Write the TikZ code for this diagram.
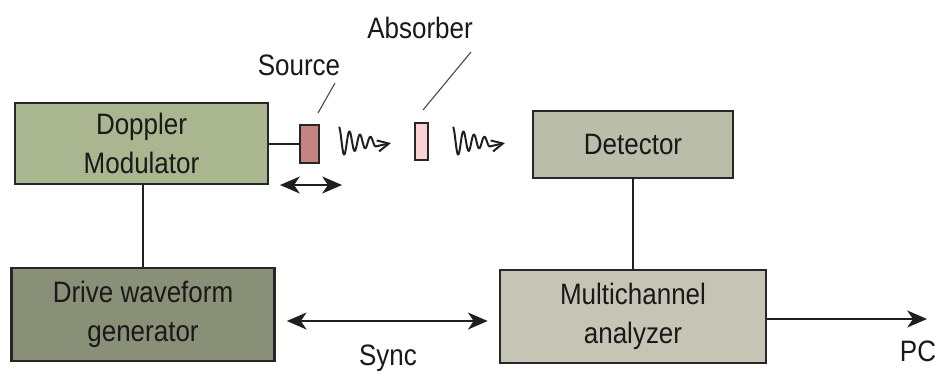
\documentclass[tikz,border=0pt]{standalone}
\usepackage{fontspec}
\setmainfont{Liberation Sans}[FakeStretch=0.88]
\usepackage{xcolor}
\usetikzlibrary{arrows.meta,positioning}

\definecolor{dmfill}{HTML}{A9B68F}
\definecolor{dwgfill}{HTML}{8A8F78}
\definecolor{detfill}{HTML}{B9BDAA}
\definecolor{mcafill}{HTML}{C6C5B5}
\definecolor{srcfill}{HTML}{C48484}
\definecolor{absfill}{HTML}{F9D3D3}

\begin{document}
\begin{tikzpicture}[x=0.025cm, y=-0.025cm,
  >={Stealth[length=14pt, width=12pt, inset=4pt]},
  box/.style={
    draw=black!85, line width=1.8pt, fill=#1,
    align=center, inner sep=0pt, text=black!90,
    font=\fontsize{21}{28}\selectfont
  },
  probe/.style={draw=black!85, line width=1.4pt, fill=#1,
    minimum width=0.475cm, minimum height=0.95cm, inner sep=0pt},
  lbl/.style={font=\fontsize{21}{24}\selectfont, text=black!90,
    inner sep=0pt},
  arr/.style={line width=1.5pt, black!88},
  lead/.style={line width=0.8pt, black!70},
  wave/.style={line width=1.4pt, black!88, line join=round,
    -{Straight Barb[length=8pt, width=8pt, line width=1.4pt]}}]

\useasboundingbox (0,0) rectangle (938,376);

% Four blocks
\node[box=dmfill,  minimum width=6.325cm, minimum height=2.025cm]
  (dm) at (141.5,143.5) {Doppler\\Modulator};
\node[box=dwgfill, minimum width=6.575cm, minimum height=2.325cm]
  (dwg) at (143,314.5) {Drive waveform\\generator};
\node[box=detfill, minimum width=5cm, minimum height=1.675cm]
  (det) at (633,144.5) {Detector};
\node[box=mcafill, minimum width=6.65cm, minimum height=2.325cm]
  (mca) at (633,316.5) {Multichannel\\analyzer};

% Source and absorber
\node[probe=srcfill] (src) at (309.5,144) {};
\node[probe=absfill, minimum width=0.325cm, minimum height=0.925cm]
  (abs) at (421.5,141.5) {};

% Labels
\node[lbl] (srclbl) at (299,65) {Source};
\node[lbl] (abslbl) at (420,28) {Absorber};
\node[lbl] (sync) at (388,358) {Sync};
\node[lbl] (pc) at (918,351) {PC};

% Free ends
\coordinate (srcl) at (335,83);
\coordinate (srcp) at (318,113);
\coordinate (absl) at (471,52);
\coordinate (absp) at (423,110);
\coordinate (oscl) at (280,185);
\coordinate (oscr) at (342,185);
\coordinate (pcend) at (927,319);

% Connecting lines
\draw[arr] (dwg.north) -- (dwg.north |- dm.south);
\draw[arr] (det.south) -- (det.south |- mca.north);
\draw[arr] (dm.east |- src.west) -- (src.west);
\draw[arr, <->] (oscl) -- (oscr);
\draw[arr, <->] ([shift={(11,6.5)}]dwg.east) -- ([shift={(-11,4.5)}]mca.west);
\draw[arr, ->] (mca.east |- pcend) -- (pcend);

% Leaders
\draw[lead] (srcl) -- (srcp);
\draw[lead] (absl) -- (absp);

% Gamma rays
\foreach \sx in {339,453}
  \draw[wave, shift={(\sx,142)}]
    plot[domain=0:3.5, samples=121, smooth]
      ({10.5*\x}, {-15*exp(-0.35*\x)*cos(360*\x)}) -- (52,1);

\end{tikzpicture}
\end{document}
